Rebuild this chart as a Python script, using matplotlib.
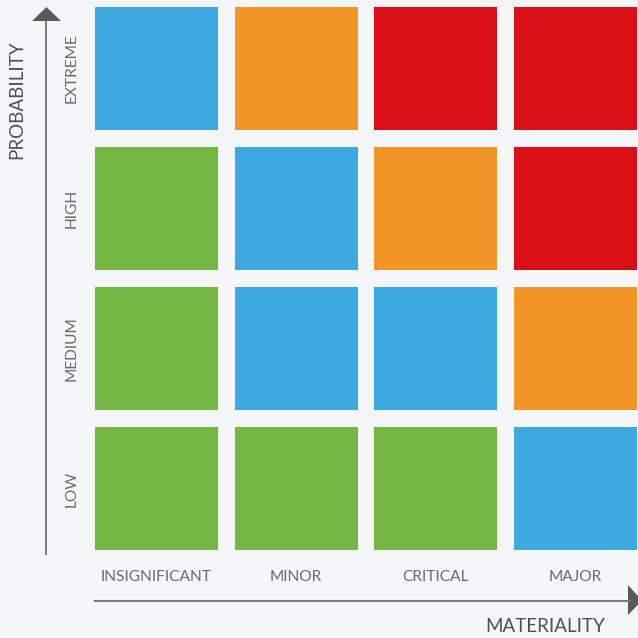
import matplotlib
matplotlib.use("Agg")
import matplotlib.pyplot as plt
from matplotlib.patches import Rectangle, Polygon
import numpy as np

# Data
impact_labels = ["INSIGNIFICANT", "MINOR", "CRITICAL", "MAJOR"]
probability_labels = ["LOW", "MEDIUM", "HIGH", "EXTREME"]  # bottom -> top
# risk level per cell, rows bottom -> top, columns left -> right
risk_levels = [
    ["low", "low", "low", "moderate"],
    ["low", "moderate", "moderate", "high"],
    ["low", "moderate", "high", "extreme"],
    ["moderate", "high", "extreme", "extreme"],
]
level_colors = {
    "low": "#74B743",
    "moderate": "#3DA9E0",
    "high": "#F39426",
    "extreme": "#DA1016",
}

BG = "#F5F6F8"
TEXT = "#6A6A6A"
AXIS = "#5A5A5A"
W = H = 638

plt.rcParams["font.family"] = ["Lato", "DejaVu Sans"]

fig = plt.figure(figsize=(6.38, 6.38), dpi=100, facecolor=BG)

# grid of cells: column i centre at 156.5 + 139.5*i px, row j centre at 488.5 - 140*j px
ax = fig.add_axes([0, 0, 1, 1])
ax.set_facecolor("none")
ax.set_xlim(-156.5 / 139.5, (W - 156.5) / 139.5)
ax.set_ylim((488.5 - H) / 140, 488.5 / 140)
ax.axis("off")
cw, ch = 123 / 139.5, 123 / 140
for j, row in enumerate(risk_levels):
    for i, lvl in enumerate(row):
        ax.add_patch(Rectangle((i - cw / 2, j - ch / 2), cw, ch,
                               facecolor=level_colors[lvl], edgecolor="none"))

for i, lab in enumerate(impact_labels):
    ax.text(i, (488.5 - 577) / 140, lab, ha="center", va="center",
            fontsize=11.2, color=TEXT)
for j, lab in enumerate(probability_labels):
    ax.text((72 - 156.5) / 139.5, j, lab, ha="center", va="center",
            rotation=90, fontsize=11.2, color=TEXT)

# decorations in pixel coordinates
deco = fig.add_axes([0, 0, 1, 1], zorder=-1)
deco.set_xlim(0, W)
deco.set_ylim(H, 0)
deco.axis("off")
deco.set_facecolor("none")

deco.plot([46, 46], [555, 20], color=AXIS, lw=1.1, solid_capstyle="butt")
deco.add_patch(Polygon([[32, 21], [61, 21], [46.5, 7]], closed=True,
                       facecolor=AXIS, edgecolor="none"))
deco.plot([94, 630], [600.5, 600.5], color="#7A7A7A", lw=1.5, solid_capstyle="butt")
deco.add_patch(Polygon([[628, 585], [628, 615], [642, 600.5]], closed=True,
                       facecolor=AXIS, edgecolor="none", clip_on=False))

deco.text(17, 100, "PROBABILITY", rotation=90, ha="center", va="center",
          fontsize=13.5, color="#505050")
deco.text(545, 627, "MATERIALITY", ha="center", va="center",
          fontsize=13.5, color="#505050")

fig.savefig("out.png", dpi=100, facecolor=BG)
